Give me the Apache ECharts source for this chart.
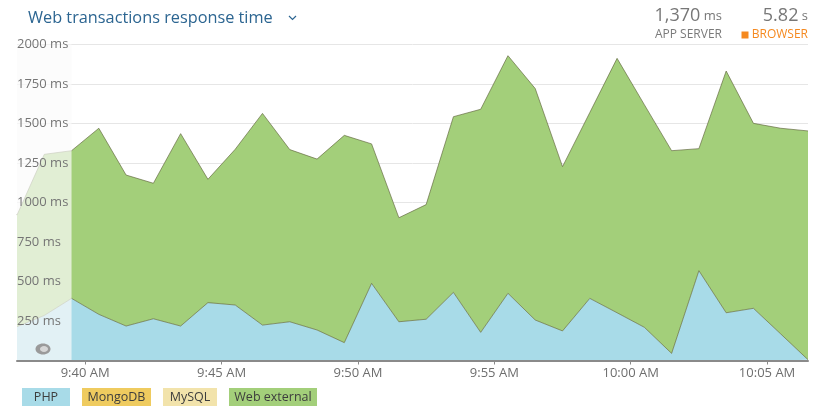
<!DOCTYPE html>
<html>
<head>
<meta charset="utf-8">
<script src="https://cdn.jsdelivr.net/npm/echarts@6/dist/echarts.min.js"></script>
<style>
html,body{margin:0;padding:0;background:#fff;}
#chart{width:819px;height:408px;}
</style>
</head>
<body>
<div id="chart"></div>
<script>
// Sample times (one per minute)
const times = ['9:37:30','9:38:30','9:39:30','9:40:30','9:41:30','9:42:30','9:43:30','9:44:30','9:45:30','9:46:30',
  '9:47:30','9:48:30','9:49:30','9:50:30','9:51:30','9:52:30','9:53:30','9:54:30','9:55:30','9:56:30',
  '9:57:30','9:58:30','9:59:30','10:00:30','10:01:30','10:02:30','10:03:30','10:04:30','10:05:30','10:06:30'];
// Series values (ms)
const php = [214,285,393,292,218,264,218,366,351,224,245,193,113,488,245,261,431,178,425,256,187,393,302,210,45,568,302,330,168,5];
const mongodb = [0,0,0,0,0,0,0,0,0,0,0,0,0,0,0,0,0,0,0,0,0,0,0,0,0,0,0,0,0,0];
const mysql = [0,0,0,0,0,0,0,0,0,0,0,0,0,0,0,0,0,0,0,0,0,0,0,0,0,0,0,0,0,0];
const webExternal = [706,1019,934,1177,955,857,1217,780,985,1339,1089,1081,1311,882,658,725,1111,1411,1503,1464,1039,1175,1609,1408,1282,772,1529,1170,1301,1447];
// Faded (history) range: from first sample to third sample
const fadedRange = ['9:37:30','9:39:30'];
// Axis ticks
const xTickTimes = ['9:40','9:45','9:50','9:55','10:00','10:05'];
const xTickLabels = ['9:40 AM','9:45 AM','9:50 AM','9:55 AM','10:00 AM','10:05 AM'];

function toMin(s){ const p = s.split(':').map(Number); return (p[0]-9)*60 + p[1] + (p[2]||0)/60; }
const xTickVals = xTickTimes.map(toMin);

const C_PHP = '#a8dbe8', C_MONGO = '#efcb5f', C_MYSQL = '#f2e3ab', C_WEB = '#a3cf7a';
const FONT = '"Open Sans", sans-serif';

function areaSeries(name, data, color){
  return {
    name, type:'line', stack:'total', data, showSymbol:false, symbol:'none', xAxisIndex:0, yAxisIndex:0,
    lineStyle:{color:'rgba(95,100,60,0.65)', width:1}, itemStyle:{color},
    areaStyle:{color, opacity:1}, z:2, silent:true
  };
}
function zeroSeries(name, data, color){
  return {
    name, type:'line', stack:'total', data, showSymbol:false, symbol:'none', xAxisIndex:0, yAxisIndex:0,
    lineStyle:{width:0, color}, itemStyle:{color}, areaStyle:{color, opacity:0}, z:2, silent:true
  };
}

const chart = echarts.init(document.getElementById('chart'), null, {renderer:'canvas'});
chart.setOption({
  animation:false,
  backgroundColor:'#fff',
  grid:{left:17, right:11, top:44.3, bottom:47.5, containLabel:false, outerBoundsMode:'none'},
  xAxis:[{
    type:'category', data:times, boundaryGap:false, show:false
  },{
    type:'value', min:toMin(times[0]), max:toMin(times[times.length-1]), z:20, position:'bottom',
    axisLine:{show:true, onZero:false, lineStyle:{color:'#8a8a8a', width:2}},
    axisTick:{show:true, customValues:xTickVals, length:4, lineStyle:{color:'#8a8a8a', width:1}},
    axisLabel:{customValues:xTickVals, margin:6, color:'#6e6e6e', fontSize:13, fontFamily:FONT,
      formatter:(v)=>{ const i = xTickVals.findIndex(t=>Math.abs(t-v)<1e-6); return i>=0 ? xTickLabels[i] : ''; }},
    splitLine:{show:false}
  }],
  yAxis:[{
    type:'value', min:0, max:2000, interval:250, z:0,
    axisLine:{show:false}, axisTick:{show:false}, axisLabel:{show:false},
    splitLine:{show:true, lineStyle:{color:'#e6e6e6', width:1}}
  },{
    type:'value', min:0, max:2000, interval:250, z:30, position:'left',
    axisLine:{show:false}, axisTick:{show:false}, splitLine:{show:false},
    axisLabel:{inside:true, margin:0, color:'#757575', fontSize:13, fontFamily:FONT,
      formatter:(v)=> v===0 ? '' : v + ' ms'}
  }],
  legend:{
    left:12, top:383, itemWidth:0, itemHeight:0, itemGap:7, icon:'rect', selectedMode:false,
    data:['PHP','MongoDB','MySQL','Web external'],
    formatter:(n)=>({'PHP':'{a|PHP}','MongoDB':'{b|MongoDB}','MySQL':'{c|MySQL}','Web external':'{d|Web external}'}[n]),
    textStyle:{fontFamily:FONT, fontSize:12.5, color:'#3d3d3d',
      rich:{
        a:{backgroundColor:C_PHP, width:48, height:18, align:'center', color:'#3d3d3d', fontSize:12.5, fontFamily:FONT},
        b:{backgroundColor:C_MONGO, width:69, height:18, align:'center', color:'#3d3d3d', fontSize:12.5, fontFamily:FONT},
        c:{backgroundColor:C_MYSQL, width:54, height:18, align:'center', color:'#3d3d3d', fontSize:12.5, fontFamily:FONT},
        d:{backgroundColor:C_WEB, width:88, height:18, align:'center', color:'#3d3d3d', fontSize:12.5, fontFamily:FONT}
      }}
  },
  title:{
    text:'Web transactions response time', left:23, top:5,
    textStyle:{color:'#2c6591', fontSize:16.3, fontWeight:'normal', fontFamily:FONT}
  },
  graphic:[
    {type:'polyline', shape:{points:[[289,16],[292.5,19.5],[296,16]]}, style:{stroke:'#2c6591', lineWidth:1.2, fill:null}},
    {type:'text', x:722, y:25, style:{text:'{n|1,370}{u| ms}', align:'right', verticalAlign:'bottom',
      rich:{n:{fontSize:18, fill:'#777777', fontFamily:FONT}, u:{fontSize:13, fill:'#777777', fontFamily:FONT}}}},
    {type:'text', x:808, y:25, style:{text:'{n|5.82}{u| s}', align:'right', verticalAlign:'bottom',
      rich:{n:{fontSize:18, fill:'#777777', fontFamily:FONT}, u:{fontSize:13, fill:'#777777', fontFamily:FONT}}}},
    {type:'text', x:722, y:35, style:{text:'APP SERVER', align:'right', verticalAlign:'middle', fontSize:12, fill:'#7a7a7a', fontFamily:FONT}},
    {type:'rect', shape:{x:741.5, y:31.5, width:7, height:7}, style:{fill:'#f5891f'}},
    {type:'text', x:808, y:35, style:{text:'BROWSER', align:'right', verticalAlign:'middle', fontSize:12, fill:'#f5891f', fontFamily:FONT}},
    {type:'ellipse', shape:{cx:43, cy:349, rx:7.5, ry:5.5}, style:{fill:'#9a9a9a'}, z:40},
    {type:'ellipse', shape:{cx:44, cy:349, rx:4, ry:3}, style:{fill:'#d6d6d6'}, z:41}
  ],
  series:[
    areaSeries('PHP', php, C_PHP),
    zeroSeries('MongoDB', mongodb, C_MONGO),
    zeroSeries('MySQL', mysql, C_MYSQL),
    areaSeries('Web external', webExternal, C_WEB),
    {
      type:'custom', name:'faded', silent:true, z:10, xAxisIndex:1, yAxisIndex:0,
      data:[[toMin(fadedRange[0]), toMin(fadedRange[1])]],
      encode:{x:[0,1]},
      renderItem:(params, api)=>{
        const p0 = api.coord([api.value(0), 2000]);
        const p1 = api.coord([api.value(1), 0]);
        return {type:'rect', shape:{x:p0[0], y:p0[1], width:p1[0]-p0[0], height:p1[1]-p0[1]},
          style:{fill:'rgba(251,251,251,0.7)'}};
      }
    }
  ]
});
</script>
</body>
</html>
